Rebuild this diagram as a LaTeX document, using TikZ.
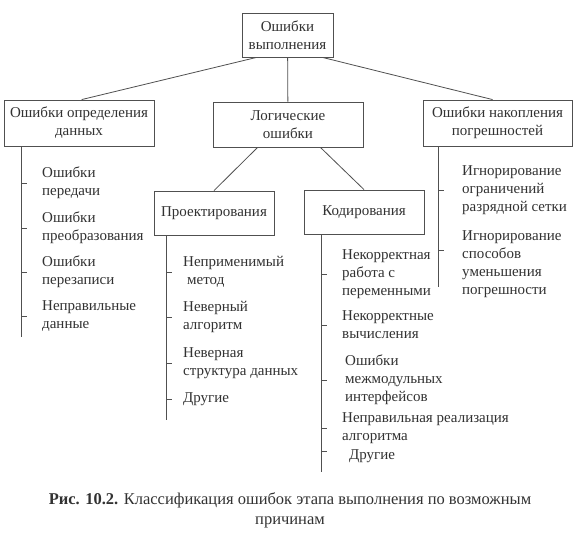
\documentclass[tikz,border=0pt]{standalone}
\usepackage{fontspec}
\setmainfont{Liberation Serif}
\usetikzlibrary{positioning}
\definecolor{txtgray}{RGB}{50,50,50}
\definecolor{linegray}{RGB}{80,80,80}

\begin{document}
\begin{tikzpicture}[x=1pt, y=-1pt,
  every node/.style={font=\fontsize{15}{18}\selectfont, text=txtgray},
  box/.style={draw=linegray, line width=0.8pt, align=center, inner sep=0pt},
  item/.style={anchor=west, align=left, inner sep=0pt},
  conn/.style={draw=linegray, line width=0.8pt},
  caption/.style={align=center, inner sep=0pt, font=\fontsize{16.5}{20}\selectfont}]
  \fill[white] (0,0) rectangle (588,537);
  \useasboundingbox (0,0) rectangle (588,537);

  % boxes
  \node[box, minimum width=91, minimum height=44] (root) at (287.5,35) {Ошибки\\выполнения};
  \node[box, minimum width=150, minimum height=46] (data) at (79,123) {Ошибки определения\\данных};
  \node[box, minimum width=150, minimum height=45] (logic) at (288,124.5) {Логические\\ошибки};
  \node[box, minimum width=149, minimum height=46] (accum) at (497.5,123) {Ошибки накопления\\погрешностей};
  \node[box, minimum width=120, minimum height=44] (design) at (214,213) {Проектирования};
  \node[box, minimum width=120, minimum height=44] (code) at (364,212) {Кодирования};

  \draw[conn] ([xshift=15]root.south west) -- ([xshift=78]data.north west);
  \draw[conn] (root) -- (logic);
  \draw[conn] ([xshift=-11]root.south east) -- ([xshift=70]accum.north west);
  \draw[conn] ([xshift=45]logic.south west) -- (design.north);
  \draw[conn] ([xshift=-43]logic.south east) -- (code.north);

  % spines
  \coordinate (dataEnd) at (21,337);
  \coordinate (designEnd) at (166,420);
  \coordinate (codeEnd) at (321,472);
  \coordinate (accumEnd) at (438,287);
  \draw[conn] (data.south -| dataEnd) -- (dataEnd);
  \draw[conn] (design.south -| designEnd) -- (designEnd);
  \draw[conn] (code.south -| codeEnd) -- (codeEnd);
  \draw[conn] (accum.south -| accumEnd) -- (accumEnd);

  % data errors
  \node[item] (d1) at (42,183) {Ошибки\\передачи};
  \node[item] (d2) at (42,228) {Ошибки\\преобразования};
  \node[item] (d3) at (42,272) {Ошибки\\перезаписи};
  \node[item] (d4) at (42,316) {Неправильные\\данные};
  \foreach \n in {d1,d2,d3,d4}
    \draw[conn] (\n.west -| dataEnd) -- ++(6,0);

  % design errors
  \node[item] (p1) at (183,272) {Неприменимый\\\hspace*{4pt}метод};
  \node[item] (p2) at (183,317) {Неверный\\алгоритм};
  \node[item] (p3) at (183,363) {Неверная\\структура данных};
  \node[item] (p4) at (183,399) {Другие};
  \foreach \n in {p1,p2,p3,p4}
    \draw[conn] (\n.west -| designEnd) -- ++(6,0);

  % coding errors
  \node[item] (c1) at (342,274) {Некорректная\\работа с\\переменными};
  \node[item] (c2) at (342,325) {Некорректные\\вычисления};
  \node[item] (c3) at (345,380) {Ошибки\\межмодульных\\интерфейсов};
  \node[item] (c4) at (342,428) {Неправильная реализация\\алгоритма};
  \node[item] (c5) at (349,456) {Другие};
  \coordinate (c5t) at ([yshift=5]c5.west);
  \foreach \n in {c1,c2,c3,c4}
    \draw[conn] (\n.west -| codeEnd) -- ++(6,0);
  \draw[conn] (c5t -| codeEnd) -- ++(6,0);

  % accumulation errors
  \node[item] (r1) at (462,190) {Игнорирование\\ограничений\\разрядной сетки};
  \node[item] (r2) at (462,264.5) {Игнорирование\\способов\\уменьшения\\погрешности};
  \coordinate (r2t) at ([yshift=14.5]r2.west);
  \draw[conn] (r1.west -| accumEnd) -- ++(6,0);
  \draw[conn] (r2t -| accumEnd) -- ++(6,0);

  \node[caption] (cap) at (290,510) {\textbf{Рис. 10.2.} Классификация ошибок этапа выполнения по возможным\\причинам};
\end{tikzpicture}
\end{document}
